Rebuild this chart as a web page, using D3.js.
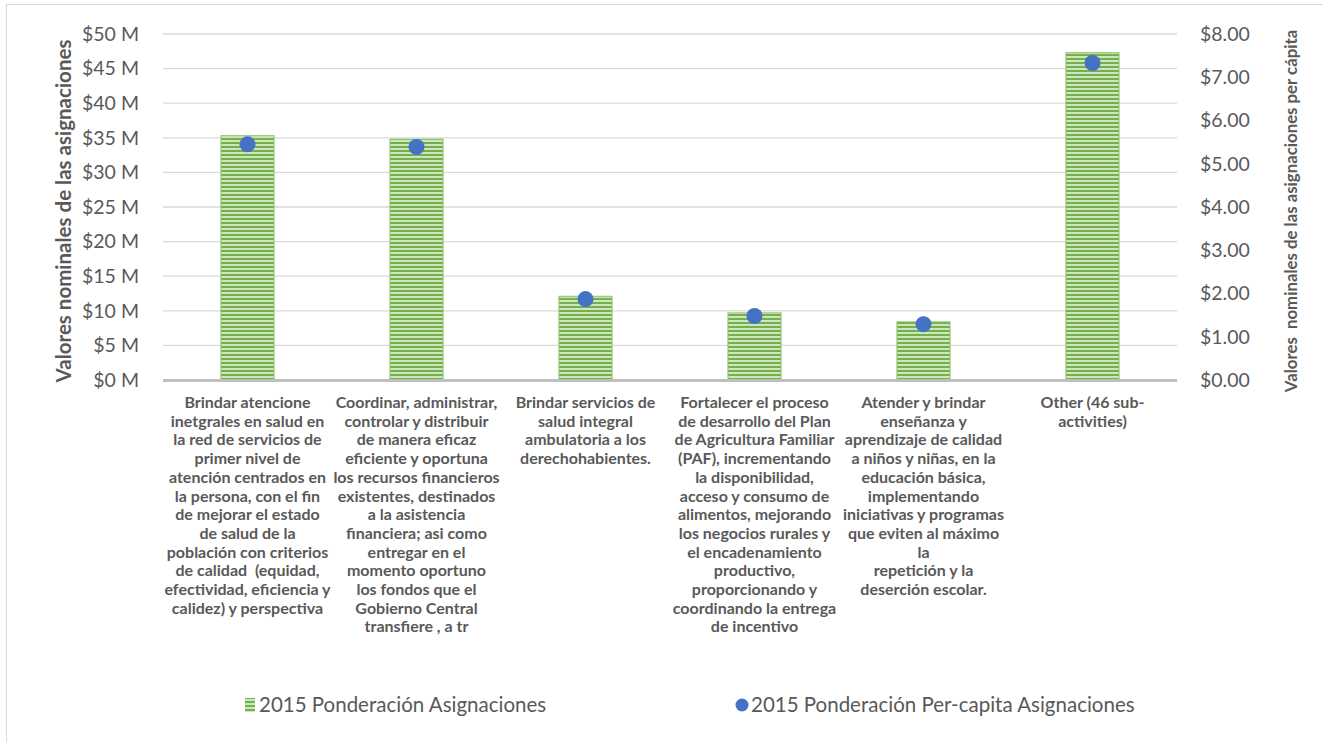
<!DOCTYPE html>
<html>
<head>
<meta charset="utf-8">
<script src="https://cdn.jsdelivr.net/npm/d3@7"></script>
<style>
  body { margin: 0; background: #fff; }
  svg { display: block; font-family: Lato, "Open Sans", sans-serif; }
</style>
</head>
<body>
<div id="chart"></div>
<script>
// category labels, already wrapped the way the source chart wraps them
const categories = [
  ["Brindar atencione", "inetgrales en salud en", "la red de servicios de", "primer nivel de",
   "atención centrados en", "la persona, con el fin", "de mejorar el estado", "de salud de la",
   "población con criterios", "de calidad  (equidad,", "efectividad, eficiencia y", "calidez) y perspectiva"],
  ["Coordinar, administrar,", "controlar y distribuir", "de manera eficaz", "eficiente y oportuna",
   "los recursos financieros", "existentes, destinados", "a la asistencia", "financiera; asi como",
   "entregar en el", "momento oportuno", "los fondos que el", "Gobierno Central", "transfiere , a tr"],
  ["Brindar servicios de", "salud integral", "ambulatoria a los", "derechohabientes."],
  ["Fortalecer el proceso", "de desarrollo del Plan", "de Agricultura Familiar", "(PAF), incrementando",
   "la disponibilidad,", "acceso y consumo de", "alimentos, mejorando", "los negocios rurales y",
   "el encadenamiento", "productivo,", "proporcionando y", "coordinando la entrega", "de incentivo"],
  ["Atender y brindar", "enseñanza y", "aprendizaje de calidad", "a niños y niñas, en la",
   "educación básica,", "implementando", "iniciativas y programas", "que eviten al máximo",
   "la", "repetición y la", "deserción escolar."],
  ["Other (46 sub-", "activities)"]
];

// millions
const asignaciones = [35.3, 34.8, 12.1, 9.7, 8.4, 47.3];
// dollars per capita
const perCapita = [5.45, 5.39, 1.87, 1.48, 1.29, 7.33];

const leftTicks = [0, 5, 10, 15, 20, 25, 30, 35, 40, 45, 50];
const rightTicks = [0, 1, 2, 3, 4, 5, 6, 7, 8];

const seriesNames = ["2015 Ponderación Asignaciones", "2015 Ponderación Per-capita Asignaciones"];

const W = 1323, H = 742;
const margin = { top: 34, right: 146, bottom: 362, left: 163 };
const width = W - margin.left - margin.right;
const height = H - margin.top - margin.bottom;
const textColor = "#595959";
const font = "Lato, 'Open Sans', sans-serif";

const svg = d3.select("#chart").append("svg").attr("width", W).attr("height", H);

// bar hatch
const defs = svg.append("defs");
const pat = defs.append("pattern")
  .attr("id", "stripes")
  .attr("patternUnits", "userSpaceOnUse")
  .attr("width", 8).attr("height", 4);
pat.append("rect").attr("width", 8).attr("height", 4).attr("fill", "#cde6bd");
pat.append("rect").attr("width", 8).attr("height", 2).attr("fill", "#74b04b");

// chart frame (only left/top edges visible in the source)
svg.append("rect")
  .attr("x", 6.5).attr("y", 4.5)
  .attr("width", W + 20).attr("height", H + 20)
  .attr("fill", "none").attr("stroke", "#d9d9d9");

const g = svg.append("g").attr("transform", `translate(${margin.left},${margin.top})`);

const x = d3.scaleBand()
  .domain(d3.range(categories.length))
  .range([0, width])
  .paddingInner(0.686)
  .paddingOuter(0.343);

const yL = d3.scaleLinear().domain([0, 50]).range([height, 0]);
const yR = d3.scaleLinear().domain([0, 8]).range([height, 0]);

// gridlines
g.append("g")
  .selectAll("line")
  .data(leftTicks.filter(d => d > 0))
  .join("line")
  .attr("x1", 0).attr("x2", width)
  .attr("y1", d => yL(d)).attr("y2", d => yL(d))
  .attr("stroke", "#d9d9d9").attr("stroke-width", 1.3);

// left axis
const axL = g.append("g")
  .call(d3.axisLeft(yL).tickValues(leftTicks).tickSize(0).tickPadding(24).tickFormat(d => `$${d} M`));
axL.select(".domain").remove();
axL.attr("font-family", font);
axL.selectAll("text").attr("fill", textColor).style("font-size", "19.5px");

// right axis
const axR = g.append("g")
  .attr("transform", `translate(${width},0)`)
  .call(d3.axisRight(yR).tickValues(rightTicks).tickSize(0).tickPadding(23).tickFormat(d3.format("$.2f")));
axR.select(".domain").remove();
axR.attr("font-family", font);
axR.selectAll("text").attr("fill", textColor).style("font-size", "19.5px");

// bars
g.append("g")
  .selectAll("rect")
  .data(asignaciones)
  .join("rect")
  .attr("x", (d, i) => x(i))
  .attr("y", d => yL(d))
  .attr("width", x.bandwidth())
  .attr("height", d => yL(0) - yL(d))
  .attr("fill", "url(#stripes)")
  .attr("stroke", "#8cc068").attr("stroke-width", 1);

// baseline
g.append("line")
  .attr("x1", 0).attr("x2", width)
  .attr("y1", yL(0) + 0.5).attr("y2", yL(0) + 0.5)
  .attr("stroke", "#bfbfbf").attr("stroke-width", 3);

// per-capita dots
g.append("g")
  .selectAll("circle")
  .data(perCapita)
  .join("circle")
  .attr("cx", (d, i) => x(i) + x.bandwidth() / 2)
  .attr("cy", d => yR(d))
  .attr("r", 8)
  .attr("fill", "#4472c4");

// category labels
const lineH = 18.7;
g.append("g")
  .selectAll("text")
  .data(categories)
  .join("text")
  .attr("x", (d, i) => x(i) + x.bandwidth() / 2)
  .attr("y", height + 28)
  .attr("text-anchor", "middle")
  .attr("fill", textColor)
  .style("font-size", "16px")
  .style("font-weight", "bold")
  .style("white-space", "pre")
  .selectAll("tspan")
  .data(d => d)
  .join("tspan")
  .attr("x", function () { return this.parentNode.getAttribute("x"); })
  .attr("dy", (d, i) => i === 0 ? 0 : lineH)
  .text(d => d);

// axis titles
svg.append("text")
  .attr("transform", `translate(71,${margin.top + height / 2 + 4}) rotate(-90)`)
  .attr("text-anchor", "middle")
  .attr("fill", textColor)
  .style("font-size", "20.5px").style("font-weight", "bold")
  .text("Valores nominales de las asignaciones");

svg.append("text")
  .attr("transform", `translate(1297,${margin.top + height / 2 + 4}) rotate(-90)`)
  .attr("text-anchor", "middle")
  .attr("fill", textColor)
  .style("font-size", "16.8px").style("font-weight", "bold")
  .style("white-space", "pre")
  .text("Valores  nominales de las asignaciones per cápita");

// legend
const legend = svg.append("g").attr("transform", "translate(0,705)");
legend.append("rect")
  .attr("x", 245).attr("y", -7).attr("width", 10).attr("height", 14)
  .attr("fill", "url(#stripes)");
legend.append("text")
  .attr("x", 259).attr("y", 0).attr("dy", "0.35em")
  .attr("fill", textColor).style("font-size", "20.5px")
  .text(seriesNames[0]);
legend.append("circle")
  .attr("cx", 742).attr("cy", 0).attr("r", 6.5).attr("fill", "#4472c4");
legend.append("text")
  .attr("x", 751).attr("y", 0).attr("dy", "0.35em")
  .attr("fill", textColor).style("font-size", "20.5px")
  .text(seriesNames[1]);
</script>
</body>
</html>
